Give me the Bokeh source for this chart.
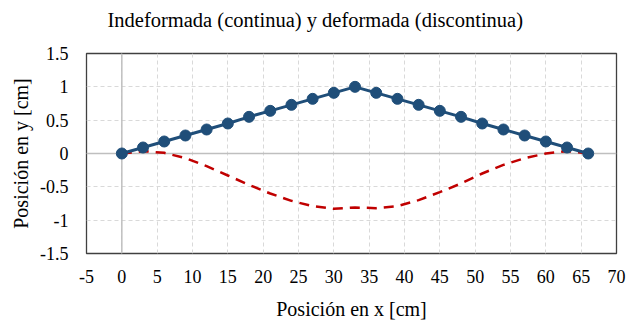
from bokeh.plotting import figure
from bokeh.models import Range1d, FixedTicker, Span, ColumnDataSource, Label
from bokeh.layouts import column
from bokeh.embed import file_html
from bokeh.resources import INLINE

# ---- data ----
x_pos = [0, 3, 6, 9, 12, 15, 18, 21, 24, 27, 30, 33, 36, 39, 42, 45, 48, 51, 54, 57, 60, 63, 66]
y_indeformada = [0, 0.09, 0.18, 0.27, 0.36, 0.45, 0.55, 0.64, 0.73, 0.82, 0.91, 1.0,
                 0.91, 0.82, 0.73, 0.64, 0.55, 0.45, 0.36, 0.27, 0.18, 0.09, 0]
y_deformada = [0, 0.035, 0.01, -0.07, -0.19, -0.33, -0.47, -0.60, -0.71, -0.79, -0.83, -0.81,
               -0.82, -0.79, -0.70, -0.58, -0.45, -0.30, -0.17, -0.07, 0.0, 0.035, 0]

x_ticks = [-5, 0, 5, 10, 15, 20, 25, 30, 35, 40, 45, 50, 55, 60, 65, 70]
x_tick_labels = ["-5", "0", "5", "10", "15", "20", "25", "30", "35", "40", "45", "50", "55", "60", "65", "70"]
y_ticks = [-1.5, -1, -0.5, 0, 0.5, 1, 1.5]
y_tick_labels = ["-1.5", "-1", "-0.5", "0", "0.5", "1", "1.5"]

title_text = "Indeformada (continua) y deformada (discontinua)"
x_title = "Posición en x [cm]"
y_title = "Posición en y [cm]"

FONT = "'Liberation Serif', 'Times New Roman', serif"

TITLE_H = 40
x_rng = Range1d(-5, 70)

# ---- title strip (a tiny figure holding only the chart title; its frame aligns with the chart's) ----
pt = figure(width=640, height=TITLE_H, output_backend="svg", toolbar_location=None,
            x_range=x_rng, y_range=Range1d(0, TITLE_H),
            x_axis_location=None, y_axis_location=None,
            min_border_left=86, min_border_right=24, min_border_top=0, min_border_bottom=0,
            background_fill_color="white", border_fill_color="white")
pt.xgrid.visible = False
pt.ygrid.visible = False
pt.outline_line_color = None
pt.add_layout(Label(x=-2.03, y=20.3, text=title_text, text_font=FONT,
                    text_font_size="20.5px", text_color="black",
                    text_baseline="alphabetic", text_align="left"))

# ---- main chart ----
p = figure(width=640, height=322 - TITLE_H, output_backend="svg", toolbar_location=None,
           x_range=x_rng, y_range=Range1d(-1.5, 1.5),
           min_border_left=86, min_border_right=24, min_border_top=53 - TITLE_H, min_border_bottom=66,
           background_fill_color="white", border_fill_color="white")

p.outline_line_color = "#404040"
p.outline_line_width = 1.3

p.xaxis.ticker = FixedTicker(ticks=x_ticks)
p.xaxis.major_label_overrides = {float(t): l for t, l in zip(x_ticks, x_tick_labels)}
p.yaxis.ticker = FixedTicker(ticks=y_ticks)
p.yaxis.major_label_overrides = {float(t): l for t, l in zip(y_ticks, y_tick_labels)}

for ax in (p.xaxis[0], p.yaxis[0]):
    ax.axis_line_color = None
    ax.major_tick_line_color = None
    ax.minor_tick_line_color = None
    ax.major_tick_out = 0
    ax.major_tick_in = 0
    ax.major_label_text_font = FONT
    ax.major_label_text_font_size = "18px"
    ax.major_label_text_color = "black"
    ax.axis_label_text_font = FONT
    ax.axis_label_text_font_size = "20px"
    ax.axis_label_text_font_style = "normal"
    ax.axis_label_text_color = "black"

p.xaxis.axis_label = x_title
p.yaxis.axis_label = y_title
p.xaxis.major_label_standoff = 16
p.yaxis.major_label_standoff = 18
p.xaxis.axis_label_standoff = 12
p.yaxis.axis_label_standoff = 5

for g in (p.xgrid[0], p.ygrid[0]):
    g.grid_line_color = "#d9d9d9"
    g.grid_line_dash = "4 3"
    g.grid_line_width = 1
p.xgrid.ticker = FixedTicker(ticks=x_ticks)
p.ygrid.ticker = FixedTicker(ticks=y_ticks)

p.add_layout(Span(location=0, dimension="height", line_color="#bfbfbf", line_width=1.5, level="underlay"))
p.add_layout(Span(location=0, dimension="width", line_color="#bfbfbf", line_width=1.5, level="underlay"))

src = ColumnDataSource(dict(x=x_pos, yi=y_indeformada, yd=y_deformada))

p.line("x", "yd", source=src, line_color="#c00000", line_width=2.5, line_dash="10 7")
p.line("x", "yi", source=src, line_color="#1f4e79", line_width=3)
p.scatter("x", "yi", source=src, size=11, fill_color="#1f4e79", line_color="#1f4e79")

layout = column(pt, p, spacing=0)
open("out.html", "w").write(file_html(layout, INLINE))
